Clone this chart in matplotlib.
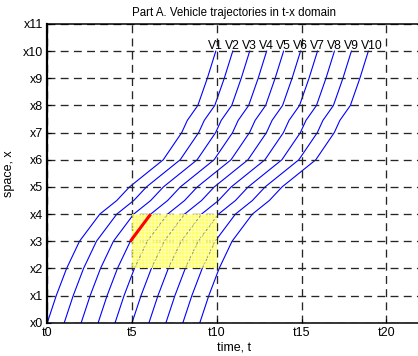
import matplotlib
matplotlib.use("Agg")
import matplotlib.pyplot as plt
from matplotlib.patches import Rectangle
import numpy as np

plt.rcParams['font.family'] = ['Liberation Sans', 'DejaVu Sans']
plt.rcParams['hatch.color'] = (1.0, 1.0, 0.75)
plt.rcParams['hatch.linewidth'] = 0.6

# Trajectory of the first vehicle (time, position); the others follow with a fixed headway
base_t = [0.0, 0.53, 1.14, 1.9, 3.1, 4.1, 4.85, 6.84, 7.93, 8.26, 8.88, 9.44, 9.94]
base_x = [0.0, 1.0, 2.0, 3.0, 4.0, 4.5, 5.0, 6.0, 7.0, 7.45, 8.0, 9.0, 10.0]
start_times = [0, 1, 2, 3, 4, 5, 6, 7, 8, 9]
vehicle_labels = ['V1', 'V2', 'V3', 'V4', 'V5', 'V6', 'V7', 'V8', 'V9', 'V10']

# Highlighted segment: vehicle 4 between x3 and x4
red_vehicle = 3
red_x = [3.0, 4.0]

# Shaded zone in the t-x plane
zone_t = [5, 10]
zone_x = [2, 4]

x_ticks = [0, 5, 10, 15, 20]
x_ticklabels = ['t0', 't5', 't10', 't15', 't20']
y_ticks = list(range(12))
y_ticklabels = ['x%d' % i for i in y_ticks]

fig = plt.figure(figsize=(4.18, 3.56), dpi=100)
ax = fig.add_axes([47.3 / 418, 33.3 / 356, 22 * 16.95 / 418, (322.7 - 24) / 356])

bt = np.array(base_t)
bx = np.array(base_x)
for s, lab in zip(start_times, vehicle_labels):
    ax.plot(bt + s, bx, color=(0, 0, 1), lw=0.8, zorder=2)
    ax.text(bt[-1] + s - 0.45, 10.2, lab, fontsize=8.8, ha='left', va='center', zorder=6)

ax.add_patch(Rectangle((zone_t[0], zone_x[0]), zone_t[1] - zone_t[0], zone_x[1] - zone_x[0],
                       facecolor=(1, 1, 0), alpha=0.6, edgecolor='none', zorder=3))
ax.add_patch(Rectangle((zone_t[0], zone_x[0]), zone_t[1] - zone_t[0], zone_x[1] - zone_x[0],
                       facecolor='none', hatch='+++++', edgecolor=(1, 1, 0.75), lw=0, zorder=3.5))

rt = np.interp(red_x, bx, bt) + start_times[red_vehicle]
ax.plot(rt, red_x, color=(1, 0, 0), lw=2.2, zorder=4, solid_capstyle='butt')

ax.set_xlim(0, 22)
ax.set_ylim(0, 11)
ax.set_xticks(x_ticks)
ax.set_xticklabels(x_ticklabels)
ax.set_yticks(y_ticks)
ax.set_yticklabels(y_ticklabels)
ax.tick_params(direction='in', length=3, labelsize=9, pad=3)
ax.set_axisbelow(False)
ax.grid(True, color='0.15', lw=0.95, linestyle=(0, (6, 4)), zorder=5)
for g in ax.get_xgridlines() + ax.get_ygridlines():
    g.set_zorder(5)
for sp in ax.spines.values():
    sp.set_linewidth(1.1)
    sp.set_zorder(7)
ax.spines['left'].set_linewidth(1.6)

ax.set_xlabel('time, t', fontsize=9, labelpad=2)
ax.set_ylabel('space, x', fontsize=9, labelpad=6)
ax.set_title('Part A. Vehicle trajectories in t-x domain', fontsize=8.3, pad=6)

fig.savefig('out.png', dpi=100)
